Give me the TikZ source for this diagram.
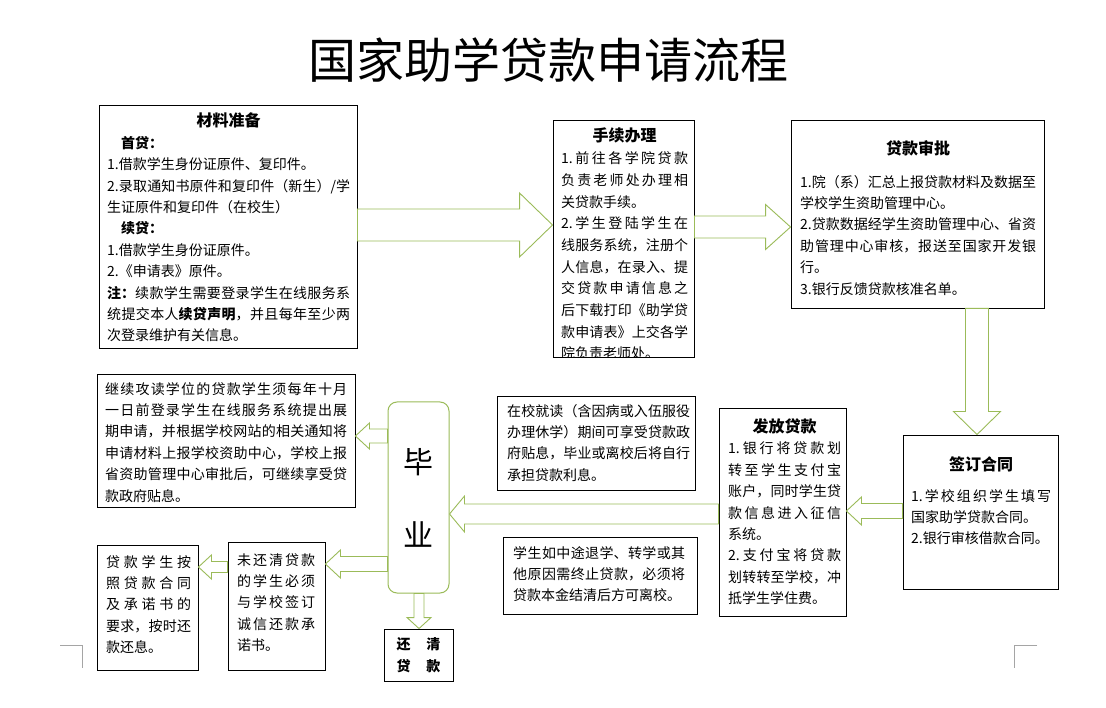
\documentclass[tikz,border=0pt]{standalone}
\usepackage{fontspec}
\setmainfont{Noto Sans CJK SC}
\usetikzlibrary{calc,fit}
\XeTeXlinebreaklocale "zh"
\XeTeXlinebreakskip=0pt plus 20pt
\setlength{\parindent}{0pt}
\definecolor{arrowgreen}{RGB}{155,187,89}
\definecolor{markgray}{RGB}{165,165,165}
\newcommand{\hd}{\fontsize{16}{21.4}\selectfont\bfseries}
\newcommand{\blkarrow}[5]{%
  \coordinate (hb) at ($#2!#5!#1$);
  \draw[arrowline] ($#1!#3!90:#2$) -- ($(hb)!#3!90:#2$) -- ($(hb)!#4!90:#2$) -- #2
    -- ($(hb)!#4!-90:#2$) -- ($(hb)!#3!-90:#2$) -- ($#1!#3!-90:#2$) -- cycle;}
\begin{document}
\begin{tikzpicture}[x=1pt, y=-1pt,
  box/.style={draw, line width=0.9pt, inner sep=0pt},
  endbox/.style={draw=arrowgreen, line width=1pt, rounded corners=9pt, inner sep=0pt},
  txt/.style={anchor=north west, inner sep=0pt, align=justify, font=\fontsize{14}{21.4}\selectfont},
  arrowline/.style={draw=arrowgreen, line width=0.9pt, fill=white, line join=miter},
  cropmark/.style={draw=markgray, line width=1pt}]
  \fill[white] (0,0) rectangle (1106,708);
  \useasboundingbox (0,0) rectangle (1106,708);

  \node[font=\fontsize{48}{56}\selectfont] (title) at (548,60) {国家助学贷款申请流程};

  \node[box, fit={(99,105) (357,348)}] (cl) {};
  \node[box, fit={(553,120) (694,357)}] (sx) {};
  \node[box, fit={(791,120) (1044,308)}] (sp) {};
  \node[box, fit={(903,435) (1058,589)}] (sg) {};
  \node[box, fit={(719,408) (846,616)}] (ff) {};
  \node[box, fit={(497,396) (695,490)}] (zx) {};
  \node[box, fit={(503,537) (697,614)}] (tx) {};
  \node[box, fit={(97,374) (355,507)}] (xs) {};
  \node[box, fit={(228,542) (325,670)}] (wh) {};
  \node[box, fit={(97,545) (198,670)}] (dk) {};
  \node[endbox, minimum width=61pt, minimum height=191pt, align=center,
    font=\fontsize{30}{73}\selectfont] (by) at (418.5,497.5) {毕\\业};
  \node[box, minimum width=69pt, minimum height=52pt, align=center,
    font=\fontsize{14}{22}\selectfont\bfseries] (hq) at (418.5,655) {还\hspace{16pt}清\\贷\hspace{16pt}款};

  \node[txt, text width=243pt] (cl-t) at (107,113) {%
    \makebox[\hsize]{\hd 材料准备}\par
    \hspace{1em}{\bfseries 首贷：}\par
    1.借款学生身份证原件、复印件。\par
    2.录取通知书原件和复印件（新生）/学\linebreak
    生证原件和复印件（在校生）\par
    \hspace{1em}{\bfseries 续贷：}\par
    1.借款学生身份证原件。\par
    2.《申请表》原件。\par
    {\bfseries 注：}续款学生需要登录学生在线服务系\linebreak
    统提交本人{\bfseries 续贷声明}，并且每年至少两\linebreak
    次登录维护有关信息。};

  \begin{scope}
    \clip (sx.north west) rectangle (sx.south east);
    \node[txt, text width=127pt, font=\fontsize{14}{21.7}\selectfont] (sx-t) at (561,128) {%
      \makebox[\hsize]{\hd 手续办理}\par
      1.前往各学院贷款\linebreak
      负责老师处办理相\linebreak
      关贷款手续。\par
      2.学生登陆学生在\linebreak
      线服务系统，注册个\linebreak
      人信息，在录入、提\linebreak
      交贷款申请信息之\linebreak
      后下载打印《助学贷\linebreak
      款申请表》上交各学\linebreak
      院负责老师处。};
  \end{scope}

  \node[txt, text width=236pt] (sp-t) at (800,140) {%
    \makebox[\hsize]{\hd 贷款审批}\par\vspace{11.6pt}
    1.院（系）汇总上报贷款材料及数据至\linebreak
    学校学生资助管理中心。\par
    2.贷款数据经学生资助管理中心、省资\linebreak
    助管理中心审核，报送至国家开发银\linebreak
    行。\par
    3.银行反馈贷款核准名单。};

  \node[txt, text width=140pt] (sg-t) at (911,456) {%
    \makebox[\hsize]{\hd 签订合同}\par\vspace{9.6pt}
    1.学校组织学生填写\linebreak
    国家助学贷款合同。\par
    2.银行审核借款合同。};

  \node[txt, text width=113pt] (ff-t) at (728,418.5) {%
    \makebox[\hsize]{\hd 发放贷款}\par
    1.银行将贷款划\linebreak
    转至学生支付宝\linebreak
    账户，同时学生贷\linebreak
    款信息进入征信\linebreak
    系统。\par
    2.支付宝将贷款\linebreak
    划转转至学校，冲\linebreak
    抵学生学住费。};

  \node[txt, text width=183pt] (zx-t) at (507,404) {%
    在校就读（含因病或入伍服役\linebreak
    办理休学）期间可享受贷款政\linebreak
    府贴息，毕业或离校后将自行\linebreak
    承担贷款利息。};

  \node[txt, text width=172pt] (tx-t) at (513,546) {%
    学生如中途退学、转学或其\linebreak
    他原因需终止贷款，必须将\linebreak
    贷款本金结清后方可离校。};

  \node[txt, text width=242pt] (xs-t) at (105,382) {%
    继续攻读学位的贷款学生须每年十月\linebreak
    一日前登录学生在线服务系统提出展\linebreak
    期申请，并根据学校网站的相关通知将\linebreak
    申请材料上报学校资助中心，学校上报\linebreak
    省资助管理中心审批后，可继续享受贷\linebreak
    款政府贴息。};

  \node[txt, text width=78pt] (wh-t) at (237,553) {%
    未还清贷款\linebreak
    的学生必须\linebreak
    与学校签订\linebreak
    诚信还款承\linebreak
    诺书。};

  \node[txt, text width=85pt] (dk-t) at (106,555) {%
    贷款学生按\linebreak
    照贷款合同\linebreak
    及承诺书的\linebreak
    要求，按时还\linebreak
    款还息。};

  \coordinate (a1s) at (cl.east |- 0,225);
  \coordinate (a1e) at (sx.west |- 0,225);
  \coordinate (a2s) at (sx.east |- 0,227);
  \coordinate (a2e) at (sp.west |- 0,227);
  \coordinate (a3s) at (sp.south -| 977,0);
  \coordinate (a3e) at (sg.north -| 977,0);
  \coordinate (a4s) at (sg.west |- 0,511);
  \coordinate (a4e) at (ff.east |- 0,511);
  \coordinate (a5s) at (ff.west |- 0,514);
  \coordinate (a5e) at (by.east |- 0,514);
  \coordinate (a6s) at (by.west |- 0,436);
  \coordinate (a6e) at (xs.east |- 0,436);
  \coordinate (a7s) at (by.west |- 0,564);
  \coordinate (a7e) at (wh.east |- 0,564);
  \coordinate (a8s) at (wh.west |- 0,567);
  \coordinate (a8e) at (dk.east |- 0,567);
  \coordinate (a9s) at (by.south -| 419,0);
  \coordinate (a9e) at (hq.north -| 419,0);

  \blkarrow{(a1s)}{(a1e)}{16pt}{32pt}{33pt}
  \blkarrow{(a2s)}{(a2e)}{11pt}{22.5pt}{25pt}
  \blkarrow{(a3s)}{(a3e)}{11.5pt}{23.5pt}{23pt}
  \blkarrow{(a4s)}{(a4e)}{7.5pt}{14pt}{15pt}
  \blkarrow{(a5s)}{(a5e)}{10pt}{18pt}{15pt}
  \blkarrow{(a6s)}{(a6e)}{7pt}{13pt}{14pt}
  \blkarrow{(a7s)}{(a7e)}{7.5pt}{14pt}{15pt}
  \blkarrow{(a8s)}{(a8e)}{5.5pt}{12pt}{13pt}
  \blkarrow{(a9s)}{(a9e)}{5pt}{12pt}{11pt}

  \draw[cropmark] (60,645) -- (82,645) -- (82,668);
  \draw[cropmark] (1037,645) -- (1014,645) -- (1014,668);
\end{tikzpicture}
\end{document}
